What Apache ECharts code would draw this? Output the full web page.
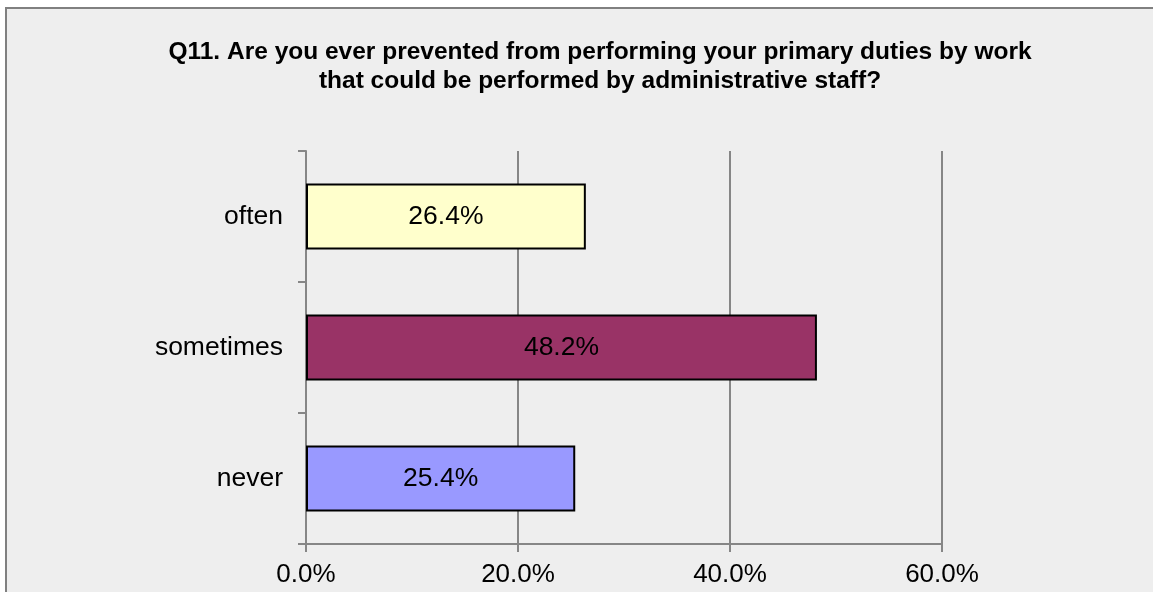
<!DOCTYPE html>
<html>
<head>
<meta charset="utf-8">
<script src="https://cdn.jsdelivr.net/npm/echarts@6/dist/echarts.min.js"></script>
<style>
html,body{margin:0;padding:0;background:#ffffff;overflow:hidden;width:1153px;height:592px;}
#frame{position:absolute;left:5px;top:7px;width:1148px;height:585px;background:#EEEEEE;border-left:2px solid #808080;border-top:2px solid #808080;box-sizing:border-box;}
#chart{position:absolute;left:0;top:0;width:1153px;height:592px;}
</style>
</head>
<body>
<div id="frame"></div>
<div id="chart"></div>
<script>
const titleLines = ['Q11. Are you ever prevented from performing your primary duties by work', 'that could be performed by administrative staff?'];
const categories = ['often', 'sometimes', 'never'];
const values = [26.4, 48.2, 25.4];
const barColors = ['#FFFFCC', '#993366', '#9999FF'];
const xTicks = [0, 20, 40, 60];

const FONT = '"Liberation Sans", Arial, sans-serif';
const chart = echarts.init(document.getElementById('chart'), null, {renderer: 'canvas'});

const option = {
  backgroundColor: 'transparent',
  animation: false,
  graphic: [
    {
      type: 'text', z: 10, x: 600, y: 37,
      style: {
        text: titleLines.join('\n'),
        font: 'bold 24.5px ' + FONT,
        fill: '#000000',
        align: 'center',
        verticalAlign: 'top',
        lineHeight: 29.5
      }
    }
  ],
  grid: {left: 306, right: 211, top: 151, bottom: 48, containLabel: false},
  xAxis: {
    type: 'value',
    min: xTicks[0],
    max: xTicks[xTicks.length - 1],
    interval: xTicks[1] - xTicks[0],
    axisLine: {show: true, lineStyle: {color: '#868686', width: 2}},
    axisTick: {show: true, length: 8, lineStyle: {color: '#868686', width: 2}},
    splitLine: {show: true, lineStyle: {color: '#868686', width: 2}},
    axisLabel: {
      margin: 18,
      color: '#000000',
      fontSize: 26,
      fontFamily: FONT,
      formatter: v => v.toFixed(1) + '%'
    }
  },
  yAxis: {
    type: 'category',
    inverse: true,
    data: categories,
    boundaryGap: true,
    axisLine: {show: true, lineStyle: {color: '#868686', width: 2}},
    axisTick: {show: true, length: 8, lineStyle: {color: '#868686', width: 2}},
    splitLine: {show: false},
    axisLabel: {margin: 23, color: '#000000', fontSize: 26.5, fontFamily: FONT}
  },
  series: [{
    type: 'bar',
    barWidth: 66,
    data: values.map((v, i) => ({value: v, itemStyle: {color: barColors[i]}})),
    itemStyle: {borderColor: '#000000', borderWidth: 2},
    label: {
      show: true,
      position: 'inside',
      color: '#000000',
      fontSize: 26.5,
      fontFamily: FONT,
      formatter: p => p.value.toFixed(1) + '%'
    }
  }]
};
chart.setOption(option);
</script>
</body>
</html>
